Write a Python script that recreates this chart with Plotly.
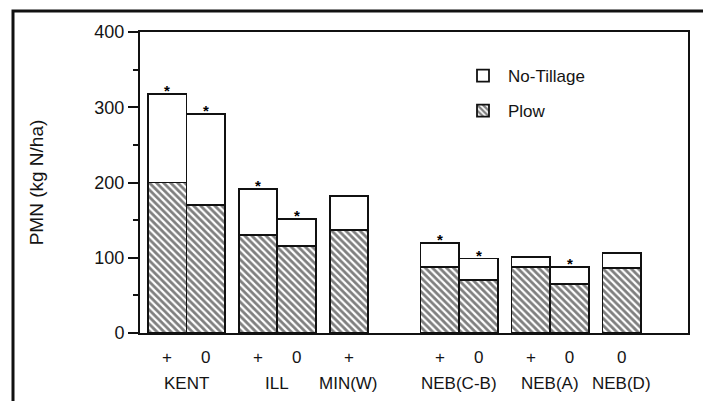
import plotly.graph_objects as go

# ---- data ----
sites = ["KENT", "KENT", "ILL", "ILL", "MIN(W)", "NEB(C-B)", "NEB(C-B)", "NEB(A)", "NEB(A)", "NEB(D)"]
treat = ["+", "0", "+", "0", "+", "+", "0", "+", "0", "0"]
total = [318, 291, 191, 152, 182, 120, 99, 101, 88, 106]
plow = [200, 170, 130, 116, 137, 88, 70, 88, 65, 86]
signif = [True, True, True, True, False, True, True, False, True, False]
yticks = [0, 100, 200, 300, 400]

# ---- layout of bar positions (1 unit = bar width) ----
xpos = []
x = 0.7
prev = None
for s in sites:
    if prev is not None and s != prev:
        x += 0.35
        if prev == "MIN(W)":
            x += 1.0
    if prev is not None:
        x += 1.0
    xpos.append(x)
    prev = s

notill = [t - p for t, p in zip(total, plow)]

FONT = "Liberation Sans, Arial, sans-serif"
TXT = "#141414"

fig = go.Figure()
fig.add_trace(go.Bar(
    x=xpos, y=plow, width=1.0, name="Plow", legendgroup="b", legendrank=2,
    marker=dict(color="white", line=dict(color="#111", width=1.8),
                pattern=dict(shape="\\", fgcolor="black", bgcolor="white",
                             size=5, solidity=0.55)),
))
fig.add_trace(go.Bar(
    x=xpos, y=notill, width=1.0, name="No-Tillage", legendgroup="a", legendrank=1,
    marker=dict(color="white", line=dict(color="#111", width=1.8)),
))

# significance asterisks
for xi, t, sg in zip(xpos, total, signif):
    if sg:
        fig.add_annotation(x=xi, y=t, text="<b>*</b>", showarrow=False, yanchor="bottom",
                           yshift=-7, font=dict(family=FONT, size=15, color="black"))

# site labels centred under each group
groups = []
for s, xi in zip(sites, xpos):
    if not groups or groups[-1][0] != s:
        groups.append([s, [xi]])
    else:
        groups[-1][1].append(xi)

# page offset (browser body margin)
OFF = 8
L, R, T, B = 140, 688, 32, 333
W, H = 711, 401
pw, ph = R - L, B - T


def px(xp):
    return (xp - L) / pw


def py(yp):
    return (B - yp) / ph


for s, xs in groups:
    fig.add_annotation(x=sum(xs) / len(xs), y=py(383), yref="paper", text=s,
                       showarrow=False, yanchor="middle",
                       font=dict(family=FONT, size=17, color=TXT))

# outer frame
fig.add_shape(type="rect", xref="paper", yref="paper",
              x0=px(13), x1=px(706), y0=py(440), y1=py(11),
              line=dict(color="#111", width=3), layer="above")

fig.update_layout(
    width=W, height=H,
    margin=dict(l=L - OFF, r=W - R + OFF, t=T - OFF, b=H - B + OFF),
    barmode="stack",
    paper_bgcolor="white", plot_bgcolor="white",
    showlegend=True,
    legend=dict(x=px(458), y=py(58), xanchor="left", yanchor="top",
                traceorder="grouped", tracegroupgap=10,
                font=dict(family=FONT, size=17, color=TXT),
                bgcolor="rgba(0,0,0,0)", itemwidth=40),
    xaxis=dict(range=[0, pw / 38.7], tickvals=xpos, ticktext=treat,
               showgrid=False, zeroline=False, ticks="",
               showline=True, linecolor="#111", linewidth=2, mirror=True,
               ticklabelstandoff=8,
               tickfont=dict(family=FONT, size=17, color=TXT)),
    yaxis=dict(range=[0, 400], tickvals=yticks, showgrid=False, zeroline=False,
               ticks="outside", ticklen=10, tickwidth=1.5, tickcolor="#111",
               minor=dict(dtick=50, ticks="outside", ticklen=5, tickwidth=1.5,
                          tickcolor="#111"),
               showline=True, linecolor="#111", linewidth=2, mirror=True,
               tickfont=dict(family=FONT, size=18, color=TXT),
               title=dict(text="PMN (kg N/ha)", standoff=46,
                          font=dict(family=FONT, size=19, color=TXT))),
)

fig.write_html("out.html")
